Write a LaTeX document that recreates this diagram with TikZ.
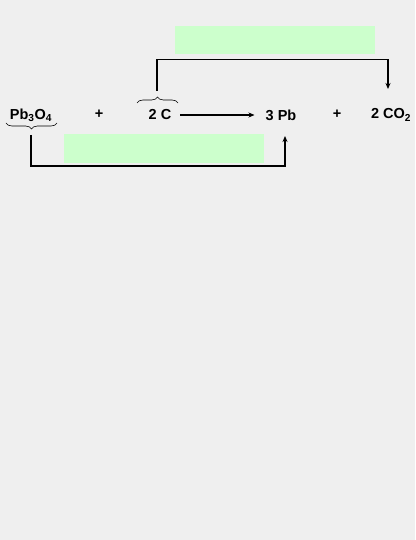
\documentclass[tikz,border=0pt]{standalone}
\usepackage{fontspec}
\setmainfont{Liberation Sans}
\usetikzlibrary{decorations.pathreplacing,arrows.meta,calc}
\definecolor{bg}{HTML}{EFEFEF}
\definecolor{lightgreen}{HTML}{CCFFCC}
\begin{document}
\begin{tikzpicture}[x=1pt,y=-1pt,
  chem/.style={font=\fontsize{14.5}{16}\selectfont\bfseries, inner sep=0pt, anchor=center},
  link/.style={line width=1.4pt, -{Stealth[length=6pt,width=5pt]}},
  bracepath/.style={decorate, decoration={brace, amplitude=6pt}, line width=0.6pt}]
\useasboundingbox[fill=bg] (0,0) rectangle (415,540);
\fill[lightgreen] (175,26) rectangle (375,54);
\fill[lightgreen] (64,134) rectangle (264,163);
\node[chem] (pb3o4) at (31,115) {Pb\textsubscript{3}O\textsubscript{4}};
\node[chem] (plus1) at (99,114) {+};
\node[chem] (c) at (160,115) {2 C};
\node[chem] (pb) at (281,115) {3 Pb};
\node[chem] (plus2) at (337,114) {+};
\node[chem] (co2) at (391,115) {2 CO\textsubscript{2}};
\coordinate (arrs) at ($(c.east)+(9,0)$);
\coordinate (arre) at ($(pb.west)+(-11,0)$);
\draw[link] (arrs) -- (arre);
\draw[bracepath] (137,103) -- (178,103);
\coordinate (topTip) at (157,91);
\draw[link] (topTip) -- (157,59.5) -- (388,59.5) -- (388,89);
\draw[bracepath] (57,123) -- (6,123);
\coordinate (botTip) at (31,135);
\draw[link] (botTip) -- (31,166) -- (285,166) -- (285,136);
\end{tikzpicture}
\end{document}
